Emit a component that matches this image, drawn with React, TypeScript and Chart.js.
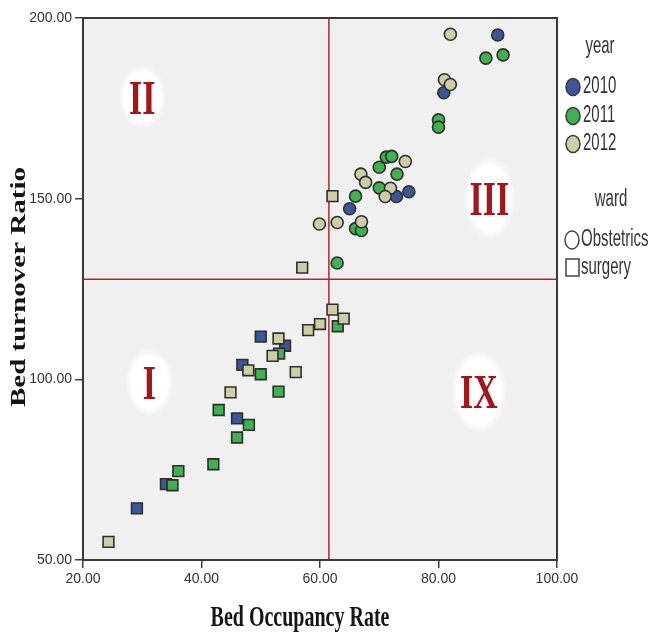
import React, { useEffect, useRef } from "react";
import { Chart, registerables } from "chart.js";

Chart.register(...registerables);

// ---- data ----
const xTickValues = [20, 40, 60, 80, 100];
const yTickValues = [50, 100, 150, 200];
const yearLabels = ["2010", "2011", "2012"];
const wardLabels = ["Obstetrics", "surgery"];

const obstetrics2010: [number, number][] = [
  [90.0, 195.3], [80.9, 179.3], [72.9, 150.6], [75.0, 151.9], [65.0, 147.2],
];
const obstetrics2011: [number, number][] = [
  [88.0, 188.9], [90.9, 189.8], [80.0, 171.8], [80.0, 169.8], [71.2, 161.5],
  [72.1, 161.7], [70.0, 158.7], [73.0, 156.8], [70.0, 153.0], [66.0, 150.7],
  [66.0, 141.7], [67.0, 141.2], [62.9, 132.2],
];
const obstetrics2012: [number, number][] = [
  [82.0, 195.5], [81.0, 182.9], [82.0, 181.6], [74.4, 160.3], [66.9, 156.8],
  [67.7, 154.5], [71.9, 152.9], [71.0, 150.6], [59.9, 143.0], [62.9, 143.4],
  [67.0, 143.6],
];
const surgery2010: [number, number][] = [
  [50.0, 111.8], [54.1, 109.3], [46.9, 104.0], [46.0, 89.2], [34.0, 71.0], [29.1, 64.3],
];
const surgery2011: [number, number][] = [
  [63.0, 114.7], [53.1, 107.1], [50.0, 101.4], [53.0, 96.6], [42.9, 91.5],
  [48.0, 87.4], [46.0, 83.9], [42.0, 76.5], [36.1, 74.6], [35.1, 70.7],
];
const surgery2012: [number, number][] = [
  [62.1, 119.3], [64.0, 116.8], [60.0, 115.3], [58.0, 113.6], [53.0, 111.3],
  [52.0, 106.5], [47.9, 102.5], [55.9, 102.0], [44.9, 96.4], [24.3, 55.0],
  [62.1, 150.7], [57.0, 130.9],
];

const cutX = 61.5;
const cutY = 127.7;

const quadrantTexts = ["II", "III", "I", "IX"];
const quadrantX = [30.0, 88.6, 31.2, 86.8];
const quadrantY = [178.1, 150.2, 99.2, 96.6];

// ---- styles ----
const yearColors = ["#3c5797", "#3db24e", "#cfcda6"];
const markerBorder = "#2e2e2e";
const glowSize: [number, number][] = [[24, 32], [26, 42], [24, 34], [28, 42]];

const toPts = (arr: [number, number][]) => arr.map(([x, y]) => ({ x, y }));

function stretchedText(
  ctx: CanvasRenderingContext2D, text: string, x: number, y: number,
  sy: number, align: CanvasTextAlign
) {
  ctx.save();
  ctx.translate(x, y);
  ctx.scale(1, sy);
  ctx.textAlign = align;
  ctx.textBaseline = "middle";
  ctx.fillText(text, 0, 0);
  ctx.restore();
}

const decorPlugin = {
  id: "decor",
  beforeDraw(chart: any) {
    const { ctx, chartArea: a } = chart;
    ctx.save();
    ctx.fillStyle = "#ffffff";
    ctx.fillRect(0, 0, chart.width, chart.height);
    ctx.fillStyle = "#f0f0f0";
    ctx.fillRect(a.left, a.top, a.right - a.left, a.bottom - a.top);
    ctx.restore();
  },
  beforeDatasetsDraw(chart: any) {
    const { ctx, chartArea: a, scales } = chart;
    const xs = scales.x, ys = scales.y;
    ctx.save();
    // quadrant labels with white glow
    quadrantTexts.forEach((t, i) => {
      const cx = xs.getPixelForValue(quadrantX[i]);
      const cy = ys.getPixelForValue(quadrantY[i]);
      const [rx, ry] = glowSize[i];
      ctx.save();
      ctx.translate(cx, cy);
      ctx.scale(rx, ry);
      const g = ctx.createRadialGradient(0, 0, 0, 0, 0, 1);
      g.addColorStop(0, "rgba(255,255,255,1)");
      g.addColorStop(0.75, "rgba(255,255,255,1)");
      g.addColorStop(1, "rgba(255,255,255,0)");
      ctx.fillStyle = g;
      ctx.beginPath();
      ctx.arc(0, 0, 1, 0, Math.PI * 2);
      ctx.fill();
      ctx.restore();
      ctx.fillStyle = "#a3161a";
      ctx.font = "bold 34px 'Liberation Serif', 'DejaVu Serif', serif";
      ctx.save();
      ctx.translate(cx, cy);
      ctx.scale(1, 1.45);
      ctx.textAlign = "center";
      ctx.textBaseline = "alphabetic";
      ctx.fillText(t, 0, 11.5);
      ctx.restore();
    });
    // red reference lines
    ctx.strokeStyle = "#b3242b";
    ctx.lineWidth = 1.5;
    const px = xs.getPixelForValue(cutX);
    const py = ys.getPixelForValue(cutY);
    ctx.beginPath();
    ctx.moveTo(px, a.top);
    ctx.lineTo(px, a.bottom);
    ctx.moveTo(a.left, py);
    ctx.lineTo(a.right, py);
    ctx.stroke();
    ctx.restore();
  },
  afterDraw(chart: any) {
    const { ctx, chartArea: a } = chart;
    ctx.save();
    // frame
    ctx.strokeStyle = "#3a3a3a";
    ctx.lineWidth = 2;
    ctx.strokeRect(a.left, a.top, a.right - a.left, a.bottom - a.top);

    // axis titles
    ctx.fillStyle = "#151515";
    ctx.font = "bold 20px 'Liberation Serif', 'DejaVu Serif', serif";
    ctx.save();
    ctx.translate(300, 626);
    ctx.scale(1, 1.45);
    ctx.textAlign = "center";
    ctx.textBaseline = "alphabetic";
    ctx.fillText("Bed Occupancy Rate", 0, 0);
    ctx.restore();
    ctx.save();
    ctx.translate(25, (a.top + a.bottom) / 2 - 2);
    ctx.rotate(-Math.PI / 2);
    ctx.scale(1.45, 1);
    ctx.textAlign = "center";
    ctx.textBaseline = "alphabetic";
    ctx.fillText("Bed turnover Ratio", 0, 0);
    ctx.restore();

    // legend
    const lx = a.right + 16;
    ctx.fillStyle = "#333333";
    ctx.font = "15px 'Liberation Sans', Arial, sans-serif";
    stretchedText(ctx, "year", lx + 27, 47, 1.55, "center");
    const yearY = [87, 116, 144];
    yearLabels.forEach((lab, i) => {
      ctx.beginPath();
      ctx.ellipse(lx, yearY[i], 7, 8.5, 0, 0, Math.PI * 2);
      ctx.fillStyle = yearColors[i];
      ctx.fill();
      ctx.lineWidth = 1.5;
      ctx.strokeStyle = "#3a3a3a";
      ctx.stroke();
      ctx.fillStyle = "#333333";
      stretchedText(ctx, lab, lx + 10, yearY[i], 1.55, "left");
    });
    stretchedText(ctx, "ward", lx + 38, 200, 1.55, "center");
    ctx.lineWidth = 1.5;
    ctx.strokeStyle = "#444444";
    ctx.beginPath();
    ctx.ellipse(lx - 1, 240, 7, 9, 0, 0, Math.PI * 2);
    ctx.stroke();
    stretchedText(ctx, wardLabels[0], lx + 8, 240, 1.55, "left");
    ctx.strokeRect(lx - 7, 259, 13, 17);
    stretchedText(ctx, wardLabels[1], lx + 8, 268, 1.55, "left");
    ctx.restore();
  },
};

export default function App() {
  const ref = useRef<HTMLCanvasElement>(null);
  useEffect(() => {
    document.body.style.margin = "0";
    const mk = (data: [number, number][], yi: number, square: boolean) => ({
      data: toPts(data),
      pointStyle: square ? "rect" : "circle",
      pointRadius: square ? 7.6 : 6,
      pointHoverRadius: square ? 7.6 : 6,
      backgroundColor: yearColors[yi],
      borderColor: markerBorder,
      pointBorderWidth: 1.6,
      borderWidth: 1.6,
    });
    const chart = new Chart(ref.current as HTMLCanvasElement, {
      type: "scatter",
      data: {
        datasets: [
          mk(surgery2012, 2, true),
          mk(surgery2011, 1, true),
          mk(surgery2010, 0, true),
          mk(obstetrics2012, 2, false),
          mk(obstetrics2011, 1, false),
          mk(obstetrics2010, 0, false),
        ] as any,
      },
      options: {
        animation: false,
        responsive: false,
        devicePixelRatio: 1,
        layout: { padding: { left: 0, right: 105, top: 18, bottom: 0 } },
        plugins: { legend: { display: false }, tooltip: { enabled: false } },
        scales: {
          x: {
            type: "linear",
            min: 20,
            max: 100,
            afterBuildTicks: (s: any) => {
              s.ticks = xTickValues.map((v) => ({ value: v }));
            },
            afterFit: (s: any) => {
              s.height = 72;
            },
            ticks: {
              callback: (v: any) => Number(v).toFixed(2),
              color: "#333333",
              font: { family: "'Liberation Sans', Arial, sans-serif", size: 14 },
              padding: 3,
              maxRotation: 0,
            },
            grid: { drawOnChartArea: false, drawTicks: true, tickLength: 8, color: "#404040", lineWidth: 1.5 },
            border: { display: false },
          },
          y: {
            type: "linear",
            min: 50,
            max: 200,
            afterBuildTicks: (s: any) => {
              s.ticks = yTickValues.map((v) => ({ value: v }));
            },
            afterFit: (s: any) => {
              s.width = 83;
            },
            ticks: {
              callback: (v: any) => Number(v).toFixed(2),
              color: "#333333",
              font: { family: "'Liberation Sans', Arial, sans-serif", size: 14 },
              padding: 3,
            },
            grid: { drawOnChartArea: false, drawTicks: true, tickLength: 8, color: "#404040", lineWidth: 1.5 },
            border: { display: false },
          },
        },
      },
      plugins: [decorPlugin],
    } as any);
    return () => chart.destroy();
  }, []);
  return (
    <div style={{ width: 662, height: 632 }}>
      <canvas ref={ref} width={662} height={632} style={{ width: 662, height: 632, display: "block" }} />
    </div>
  );
}
